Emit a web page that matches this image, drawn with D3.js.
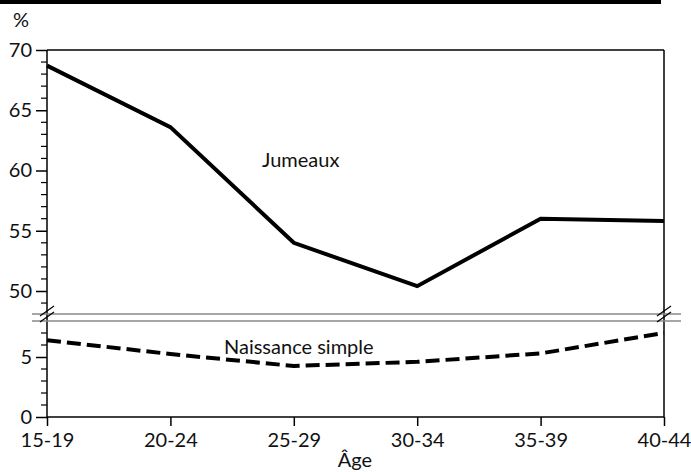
<!DOCTYPE html>
<html>
<head>
<meta charset="utf-8">
<script src="https://cdn.jsdelivr.net/npm/d3@7"></script>
<style>
  body { margin: 0; background: #fff; }
  text { font-family: Lato, "Open Sans", sans-serif; fill: #111; }
</style>
</head>
<body>
<svg id="chart" width="691" height="472"></svg>
<script>
const ages = ["15-19", "20-24", "25-29", "30-34", "35-39", "40-44"];
const jumeaux = [68.7, 63.6, 54.0, 50.4, 56.0, 55.8];
const simple = [6.4, 5.25, 4.25, 4.6, 5.3, 7.0];
const topTicks = [50, 55, 60, 65, 70];
const bottomTicks = [0, 5];

const svg = d3.select("#chart");
const left = 47, right = 664;
const fs = "20px";

// top rule
svg.append("rect").attr("x", 0).attr("y", 0).attr("width", 661).attr("height", 4).attr("fill", "#000");

const x = d3.scalePoint().domain(ages).range([left, right]);
const yTop = d3.scaleLinear().domain([50, 70]).range([291, 50]);
const yBot = d3.scaleLinear().domain([0, 5]).range([417, 357]);

// frame
svg.append("line").attr("x1", left).attr("x2", right).attr("y1", 50).attr("y2", 50).attr("stroke", "#000").attr("stroke-width", 1.5);
svg.append("line").attr("x1", right).attr("x2", right).attr("y1", 50).attr("y2", 417).attr("stroke", "#000").attr("stroke-width", 1.5);

// left axes
const axTop = svg.append("g").attr("transform", `translate(${left},0)`)
  .call(d3.axisLeft(yTop).tickValues(topTicks).tickSize(11).tickPadding(4).tickFormat(d3.format("d")));
const axBot = svg.append("g").attr("transform", `translate(${left},0)`)
  .call(d3.axisLeft(yBot).tickValues(bottomTicks).tickSize(11).tickPadding(4).tickFormat(d3.format("d")));
[axTop, axBot].forEach(g => {
  g.select(".domain").remove();
  g.selectAll("text").style("font-size", fs).attr("fill", "#111");
  g.selectAll(".tick line").attr("stroke-width", 1.5);
});
svg.append("line").attr("x1", left).attr("x2", left).attr("y1", 50).attr("y2", 417).attr("stroke", "#000").attr("stroke-width", 1.5);

// minor ticks
const minorTop = d3.range(49, 70).filter(v => v % 5 !== 0);
const minorBot = d3.range(1, 8).filter(v => v % 5 !== 0);
svg.append("g").selectAll("line").data(minorTop).join("line")
  .attr("x1", left - 6).attr("x2", left).attr("y1", d => yTop(d)).attr("y2", d => yTop(d))
  .attr("stroke", "#000").attr("stroke-width", 1.2);
svg.append("g").selectAll("line").data(minorBot).join("line")
  .attr("x1", left - 6).attr("x2", left).attr("y1", d => yBot(d)).attr("y2", d => yBot(d))
  .attr("stroke", "#000").attr("stroke-width", 1.2);

// bottom axis
const ax = svg.append("g").attr("transform", "translate(0,417)")
  .call(d3.axisBottom(x).tickSize(9).tickPadding(7));
ax.select(".domain").attr("stroke-width", 1.5).attr("d", `M${left},0H${right}`);
ax.selectAll(".tick line").attr("stroke-width", 1.5);
ax.selectAll("text").style("font-size", fs).attr("fill", "#111");

svg.append("text").attr("x", x("25-29") + 61).attr("y", 467).attr("text-anchor", "middle")
  .style("font-size", fs).text("Âge");
svg.append("text").attr("x", 13).attr("y", 27).style("font-size", fs).text("%");

// axis break
[314, 321].forEach(yy => {
  svg.append("line").attr("x1", 32).attr("x2", 681).attr("y1", yy).attr("y2", yy)
    .attr("stroke", "#888").attr("stroke-width", 1.5);
});
[left, right].forEach(xx => {
  [0, 6].forEach(off => {
    svg.append("line")
      .attr("x1", xx - 7).attr("y1", 316 + off)
      .attr("x2", xx + 7).attr("y2", 306 + off)
      .attr("stroke", "#000").attr("stroke-width", 1.2);
  });
});

// series
const lineTop = d3.line().x((d, i) => x(ages[i])).y(d => yTop(d));
const lineBot = d3.line().x((d, i) => x(ages[i])).y(d => yBot(d));
svg.append("path").datum(jumeaux).attr("d", lineTop).attr("fill", "none")
  .attr("stroke", "#000").attr("stroke-width", 4).attr("stroke-linejoin", "miter");
svg.append("path").datum(simple).attr("d", lineBot).attr("fill", "none")
  .attr("stroke", "#000").attr("stroke-width", 4).attr("stroke-dasharray", "14,6");

// labels
svg.append("text").attr("x", 262).attr("y", 167).style("font-size", fs).text("Jumeaux");
svg.append("text").attr("x", 224).attr("y", 354).style("font-size", fs).text("Naissance simple");
</script>
</body>
</html>
